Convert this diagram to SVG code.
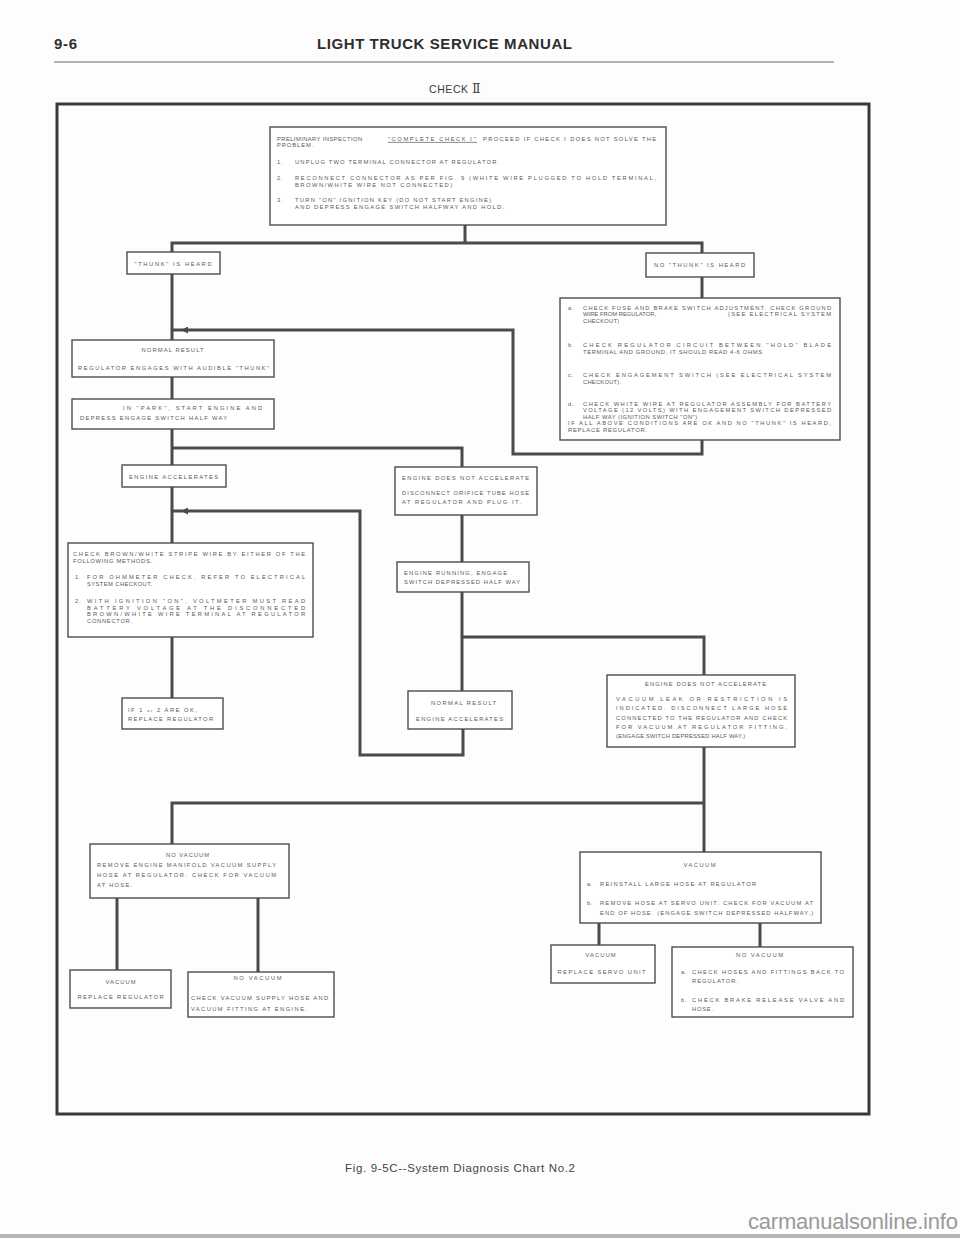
<svg xmlns="http://www.w3.org/2000/svg" width="960" height="1239" viewBox="0 0 960 1239">
<defs>
<style>
.bx{fill:#fff;stroke:#4c4c4c;stroke-width:1.4}
.cn{fill:none;stroke:#4a4a4a;stroke-width:3;stroke-linejoin:miter}
.t{font-family:"Liberation Sans",Arial,sans-serif;font-size:5.8px;fill:#5a5a5a;letter-spacing:0.9px}
.c{text-anchor:middle}
.hd{font-family:"Liberation Sans",Arial,sans-serif;font-weight:bold;font-size:15px;fill:#2e2e2e}
</style>
<marker id="ah" viewBox="0 0 10 10" refX="10" refY="5" markerWidth="12" markerHeight="7" markerUnits="userSpaceOnUse" orient="auto">
<path d="M0,0 L10,5 L0,10 z" fill="#4a4a4a"/>
</marker>
</defs>
<rect x="0" y="0" width="960" height="1239" fill="#fdfdfd"/>
<g id="header">
<text class="hd" x="54" y="49" textLength="23">9-6</text>
<text class="hd" x="317" y="49" textLength="255">LIGHT TRUCK SERVICE MANUAL</text>
<line x1="54" y1="62" x2="834" y2="62" stroke="#666" stroke-width="1.2"/>
<text x="455" y="93" text-anchor="middle" font-family="'Liberation Sans',Arial,sans-serif" font-size="10.5" fill="#3a3a3a" letter-spacing="0.6">CHECK <tspan font-family="'DejaVu Serif',serif" font-size="12">Ⅱ</tspan></text>
</g>
<rect id="frame" x="57" y="104" width="812" height="1010" fill="none" stroke="#383838" stroke-width="3"/>
<g id="connectors" class="cn">
<path d="M465,225V243"/>
<path d="M172,252V243H702V253"/>
<path d="M172,274V340"/>
<path d="M702,277V298"/>
<path d="M702,440V454H513V330H172"/>
<path d="M172,377V399"/>
<path d="M172,429V465"/>
<path d="M172,448H462V467"/>
<path d="M172,487V543"/>
<path d="M172,511H360V755H463V729"/>
<path d="M462,515V562"/>
<path d="M462,592V691"/>
<path d="M462,637H704V675"/>
<path d="M172,637V698"/>
<path d="M704,747V852"/>
<path d="M172,844V803H704"/>
<path d="M117,898V970"/>
<path d="M258,898V972"/>
<path d="M599,923V945"/>
<path d="M760,923V947"/>
<line x1="200" y1="330" x2="181" y2="330" stroke-width="1" marker-end="url(#ah)"/>
<line x1="200" y1="511" x2="181" y2="511" stroke-width="1" marker-end="url(#ah)"/>
</g>
<g id="n-prelim">
<rect class="bx" x="270" y="127" width="396" height="98"/>
<text class="t" x="277" y="140.5" textLength="86">PRELIMINARY INSPECTION</text>
<text class="t" x="388" y="140.5" textLength="89">"COMPLETE CHECK Ⅰ"</text>
<line x1="388" y1="142.4" x2="477" y2="142.4" stroke="#5a5a5a" stroke-width="0.7"/>
<text class="t" x="483" y="140.5" textLength="174">PROCEED IF CHECK Ⅰ DOES NOT SOLVE THE</text>
<text class="t" x="277" y="147">PROBLEM.</text>
<text class="t" x="277" y="164">1.</text>
<text class="t" x="295" y="164" textLength="205">UNPLUG TWO TERMINAL CONNECTOR AT REGULATOR.</text>
<text class="t" x="277" y="180">2.</text>
<text class="t" x="295" y="180" textLength="362">RECONNECT CONNECTOR AS PER FIG. 9 (WHITE WIRE PLUGGED TO HOLD TERMINAL,</text>
<text class="t" x="295" y="186.5" textLength="158">BROWN/WHITE WIRE NOT CONNECTED)</text>
<text class="t" x="277" y="202">3.</text>
<text class="t" x="295" y="202" textLength="197">TURN "ON" IGNITION KEY (DO NOT START ENGINE)</text>
<text class="t" x="295" y="208.5" textLength="210">AND DEPRESS ENGAGE SWITCH HALFWAY AND HOLD.</text>
</g>
<g id="n-thunk">
<rect class="bx" x="127" y="252" width="93" height="22"/>
<text class="t c" x="173.5" y="265.5" textLength="78">"THUNK" IS HEARD</text>
</g>
<g id="n-nothunk">
<rect class="bx" x="646" y="253" width="108" height="24"/>
<text class="t c" x="700" y="267" textLength="92">NO "THUNK" IS HEARD</text>
</g>
<g id="n-checks">
<rect class="bx" x="560" y="298" width="280" height="142"/>
<text class="t" x="568" y="309.5">a.</text>
<text class="t" x="583" y="309.5" textLength="249">CHECK FUSE AND BRAKE SWITCH ADJUSTMENT. CHECK GROUND</text>
<text class="t" x="583" y="316" textLength="74">WIRE FROM REGULATOR,</text>
<text class="t" x="728" y="316" textLength="104">(SEE ELECTRICAL SYSTEM</text>
<text class="t" x="583" y="322.5" textLength="37">CHECKOUT)</text>
<text class="t" x="568" y="347">b.</text>
<text class="t" x="583" y="347" textLength="249">CHECK REGULATOR CIRCUIT BETWEEN "HOLD" BLADE</text>
<text class="t" x="583" y="353.5" textLength="180">TERMINAL AND GROUND, IT SHOULD READ 4-6 OHMS</text>
<text class="t" x="568" y="377">c.</text>
<text class="t" x="583" y="377" textLength="249">CHECK ENGAGEMENT SWITCH (SEE ELECTRICAL SYSTEM</text>
<text class="t" x="583" y="383.5" textLength="39">CHECKOUT).</text>
<text class="t" x="568" y="405.5">d.</text>
<text class="t" x="583" y="405.5" textLength="249">CHECK WHITE WIRE AT REGULATOR ASSEMBLY FOR BATTERY</text>
<text class="t" x="583" y="412" textLength="249">VOLTAGE (12 VOLTS) WITH ENGAGEMENT SWITCH DEPRESSED</text>
<text class="t" x="583" y="418.5" textLength="115">HALF WAY (IGNITION SWITCH "ON")</text>
<text class="t" x="568" y="425" textLength="264">IF ALL ABOVE CONDITIONS ARE OK AND NO "THUNK" IS HEARD,</text>
<text class="t" x="568" y="431.5" textLength="80">REPLACE REGULATOR.</text>
</g>
<g id="n-normal1">
<rect class="bx" x="72" y="340" width="202" height="37"/>
<text class="t c" x="173" y="352" textLength="63">NORMAL RESULT</text>
<text class="t" x="78" y="370" textLength="192">REGULATOR ENGAGES WITH AUDIBLE "THUNK"</text>
</g>
<g id="n-park">
<rect class="bx" x="72" y="399" width="202" height="30"/>
<text class="t" x="123" y="410" textLength="140">IN "PARK", START ENGINE AND</text>
<text class="t" x="80" y="420" textLength="148">DEPRESS ENGAGE SWITCH HALF WAY</text>
</g>
<g id="n-accel">
<rect class="bx" x="122" y="465" width="104" height="22"/>
<text class="t c" x="174" y="478.5" textLength="90">ENGINE ACCELERATES</text>
</g>
<g id="n-noaccel1">
<rect class="bx" x="395" y="467" width="142" height="48"/>
<text class="t" x="402" y="480" textLength="128">ENGINE DOES NOT ACCELERATE</text>
<text class="t" x="402" y="495" textLength="128">DISCONNECT ORIFICE TUBE HOSE</text>
<text class="t" x="402" y="504" textLength="120">AT REGULATOR AND PLUG IT.</text>
</g>
<g id="n-brown">
<rect class="bx" x="68" y="543" width="245" height="94"/>
<text class="t" x="73" y="556" textLength="233">CHECK BROWN/WHITE STRIPE WIRE BY EITHER OF THE</text>
<text class="t" x="73" y="562.5" textLength="80">FOLLOWING METHODS.</text>
<text class="t" x="75" y="579">1.</text>
<text class="t" x="87" y="579" textLength="219">FOR OHMMETER CHECK, REFER TO ELECTRICAL</text>
<text class="t" x="87" y="585.5" textLength="66">SYSTEM CHECKOUT.</text>
<text class="t" x="75" y="603">2.</text>
<text class="t" x="87" y="603" textLength="219">WITH IGNITION "ON", VOLTMETER MUST READ</text>
<text class="t" x="87" y="609.5" textLength="219">BATTERY VOLTAGE AT THE DISCONNECTED</text>
<text class="t" x="87" y="616" textLength="219">BROWN/WHITE WIRE TERMINAL AT REGULATOR</text>
<text class="t" x="87" y="622.5" textLength="46">CONNECTOR.</text>
</g>
<g id="n-running">
<rect class="bx" x="397" y="562" width="132" height="30"/>
<text class="t" x="404" y="574.5" textLength="104">ENGINE RUNNING, ENGAGE</text>
<text class="t" x="404" y="584" textLength="117">SWITCH DEPRESSED HALF WAY</text>
</g>
<g id="n-ifok">
<rect class="bx" x="122" y="698" width="101" height="31"/>
<text class="t" x="128" y="712" textLength="70">IF 1 <tspan font-size="4.2">or</tspan> 2 ARE OK,</text>
<text class="t" x="128" y="720.5" textLength="86">REPLACE REGULATOR</text>
</g>
<g id="n-normal2">
<rect class="bx" x="408" y="691" width="104" height="38"/>
<text class="t c" x="464" y="705" textLength="66">NORMAL RESULT</text>
<text class="t c" x="460" y="721" textLength="88">ENGINE ACCELERATES</text>
</g>
<g id="n-noaccel2">
<rect class="bx" x="607" y="675" width="188" height="72"/>
<text class="t c" x="706" y="686" textLength="122">ENGINE DOES NOT ACCELERATE</text>
<text class="t" x="616" y="701" textLength="172">VACUUM LEAK OR RESTRICTION IS</text>
<text class="t" x="616" y="710" textLength="172">INDICATED. DISCONNECT LARGE HOSE</text>
<text class="t" x="616" y="719.5" textLength="172">CONNECTED TO THE REGULATOR AND CHECK</text>
<text class="t" x="616" y="728.5" textLength="172">FOR VACUUM AT REGULATOR FITTING.</text>
<text class="t" x="616" y="737.5" textLength="130">(ENGAGE SWITCH DEPRESSED HALF WAY.)</text>
</g>
<g id="n-novac1">
<rect class="bx" x="90" y="844" width="199" height="54"/>
<text class="t c" x="188" y="857" textLength="44">NO VACUUM</text>
<text class="t" x="97" y="866.5" textLength="180">REMOVE ENGINE MANIFOLD VACUUM SUPPLY</text>
<text class="t" x="97" y="876.5" textLength="180">HOSE AT REGULATOR. CHECK FOR VACUUM</text>
<text class="t" x="97" y="886.5" textLength="36">AT HOSE.</text>
</g>
<g id="n-vac1">
<rect class="bx" x="580" y="852" width="241" height="71"/>
<text class="t c" x="700" y="867" textLength="33">VACUUM</text>
<text class="t" x="587" y="886">a.</text>
<text class="t" x="600" y="886" textLength="157">REINSTALL LARGE HOSE AT REGULATOR</text>
<text class="t" x="587" y="905">b.</text>
<text class="t" x="600" y="905" textLength="214">REMOVE HOSE AT SERVO UNIT. CHECK FOR VACUUM AT</text>
<text class="t" x="600" y="915" textLength="214">END OF HOSE. (ENGAGE SWITCH DEPRESSED HALFWAY.)</text>
</g>
<g id="n-vacreg">
<rect class="bx" x="70" y="970" width="101" height="38"/>
<text class="t c" x="121" y="984" textLength="31">VACUUM</text>
<text class="t c" x="121" y="999" textLength="87">REPLACE REGULATOR</text>
</g>
<g id="n-novac2">
<rect class="bx" x="188" y="972" width="146" height="45"/>
<text class="t c" x="258" y="980" textLength="49">NO VACUUM</text>
<text class="t" x="191" y="1000" textLength="138">CHECK VACUUM SUPPLY HOSE AND</text>
<text class="t" x="191" y="1011" textLength="117">VACUUM FITTING AT ENGINE.</text>
</g>
<g id="n-servo">
<rect class="bx" x="551" y="945" width="104" height="38"/>
<text class="t c" x="601" y="957" textLength="31">VACUUM</text>
<text class="t c" x="602" y="974" textLength="89">REPLACE SERVO UNIT</text>
</g>
<g id="n-novac3">
<rect class="bx" x="672" y="947" width="181" height="70"/>
<text class="t c" x="760" y="957" textLength="48">NO VACUUM</text>
<text class="t" x="681" y="974">a.</text>
<text class="t" x="692" y="974" textLength="153">CHECK HOSES AND FITTINGS BACK TO</text>
<text class="t" x="692" y="983" textLength="47">REGULATOR.</text>
<text class="t" x="681" y="1002">b.</text>
<text class="t" x="692" y="1002" textLength="153">CHECK BRAKE RELEASE VALVE AND</text>
<text class="t" x="692" y="1011" textLength="22">HOSE.</text>
</g>
<g id="footer">
<text x="345" y="1172" font-family="'Liberation Sans',Arial,sans-serif" font-size="11.5" fill="#444" textLength="230">Fig. 9-5C--System Diagnosis Chart No.2</text>
<text x="748" y="1229" font-family="'Liberation Sans',Arial,sans-serif" font-size="22" fill="#9a9a9a" textLength="210">carmanualsonline.info</text>
<line x1="0" y1="1236" x2="960" y2="1236" stroke="#8a8a8a" stroke-width="4" opacity="0.6"/>
</g>
</svg>
